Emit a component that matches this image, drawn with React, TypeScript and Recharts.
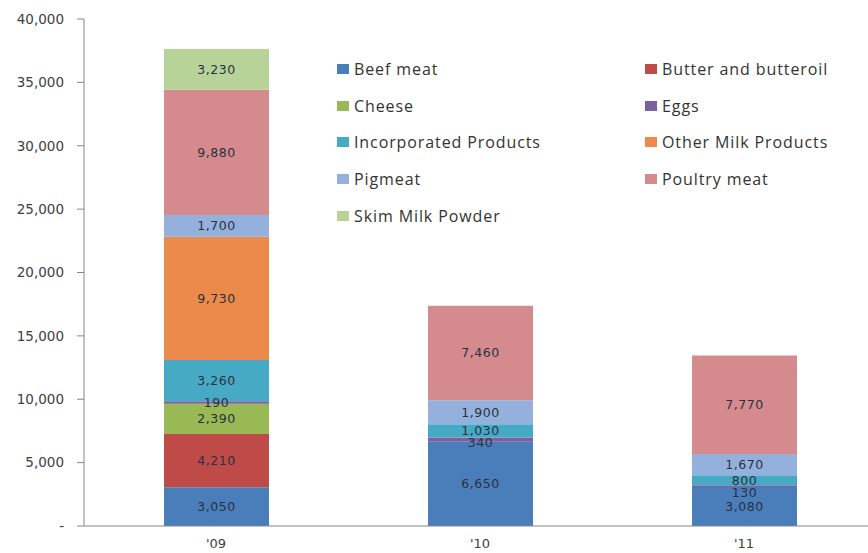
import { Bar, BarChart, LabelList, Legend, XAxis, YAxis } from "recharts";

const years = ["'09", "'10", "'11"];
const beefMeat = [3050, 6650, 3080];
const butterAndButteroil = [4210, 0, 0];
const cheese = [2390, 0, 0];
const eggs = [190, 340, 130];
const incorporatedProducts = [3260, 1030, 800];
const otherMilkProducts = [9730, 0, 0];
const pigmeat = [1700, 1900, 1670];
const poultryMeat = [9880, 7460, 7770];
const skimMilkPowder = [3230, 0, 0];
const yTicks = [0, 5000, 10000, 15000, 20000, 25000, 30000, 35000, 40000];

const series = [
  { key: "beef", name: "Beef meat", color: "#4a7ebb", values: beefMeat },
  { key: "butter", name: "Butter and butteroil", color: "#be4b48", values: butterAndButteroil },
  { key: "cheese", name: "Cheese", color: "#98b954", values: cheese },
  { key: "eggs", name: "Eggs", color: "#7d60a0", values: eggs },
  { key: "incorporated", name: "Incorporated Products", color: "#46aac5", values: incorporatedProducts },
  { key: "otherMilk", name: "Other Milk Products", color: "#eb8a4a", values: otherMilkProducts },
  { key: "pigmeat", name: "Pigmeat", color: "#93b1dc", values: pigmeat },
  { key: "poultry", name: "Poultry meat", color: "#d58b8e", values: poultryMeat },
  { key: "skim", name: "Skim Milk Powder", color: "#b8d398", values: skimMilkPowder },
];

const data = years.map((year, i) => {
  const row: Record<string, string | number> = { year };
  series.forEach((s) => {
    row[s.key] = s.values[i];
  });
  return row;
});

const formatTick = (v: number) => (v === 0 ? "-" : v.toLocaleString("en-US"));
const formatLabel = (v: unknown) => (Number(v) ? Number(v).toLocaleString("en-US") : "");

const labelStyle = { fontSize: 12.5, fontFamily: "DejaVu Sans", fill: "#2b3040", letterSpacing: 0.5 };

function LegendBox() {
  return (
    <div style={{ position: "relative", width: 868, height: 240, fontFamily: "'Open Sans', sans-serif", fontSize: 16, letterSpacing: 0.9, color: "#333" }}>
      {series.map((s, i) => {
        const col = i % 2;
        const row = Math.floor(i / 2);
        return (
          <div
            key={s.key}
            style={{
              position: "absolute",
              left: col === 0 ? 337 : 645,
              top: 58 + row * 36.7,
              display: "flex",
              alignItems: "center",
              whiteSpace: "nowrap",
            }}
          >
            <span style={{ display: "inline-block", width: 12, height: 10, background: s.color, marginRight: 5 }} />
            {s.name}
          </div>
        );
      })}
    </div>
  );
}

// eggs slices are thin, the original pushes their labels down a bit in the later bars
const EggsLabel = (props: any) => {
  const { x, y, width, height, value, index } = props;
  const text = formatLabel(value);
  if (!text) return null;
  return (
    <text
      x={x + width / 2}
      y={y + height / 2 + index * 3}
      textAnchor="middle"
      dominantBaseline="central"
      style={labelStyle}
    >
      {text}
    </text>
  );
};

export default function App() {
  return (
    <div style={{ position: "absolute", left: 0, top: 0, width: 868, height: 553, background: "#fff", overflow: "hidden" }}>
      <BarChart width={876} height={553} data={data} margin={{ top: 19, right: 0, bottom: 0, left: 0 }}>
        <XAxis
          dataKey="year"
          height={27}
          tickLine={false}
          tickSize={6}
          tickMargin={7}
          axisLine={{ stroke: "#868686" }}
          tick={{ fontSize: 13, fontFamily: "DejaVu Sans", fill: "#404040" }}
        />
        <YAxis
          width={84}
          domain={[0, 40000]}
          ticks={yTicks}
          interval={0}
          tickFormatter={formatTick}
          tickSize={7}
          tickMargin={13}
          axisLine={{ stroke: "#868686" }}
          tickLine={{ stroke: "#868686" }}
          tick={{ fontSize: 13.5, fontFamily: "DejaVu Sans", fill: "#404040" }}
        />
        <Legend
          layout="horizontal"
          verticalAlign="middle"
          wrapperStyle={{ left: 0, top: 0, width: 868 }}
          content={() => <LegendBox />}
        />
        {series.map((s) => (
          <Bar key={s.key} dataKey={s.key} name={s.name} stackId="a" fill={s.color} barSize={105} isAnimationActive={false}>
            {s.key === "eggs" ? (
              <LabelList dataKey={s.key} content={EggsLabel} />
            ) : (
              <LabelList dataKey={s.key} position="center" formatter={formatLabel} style={labelStyle} />
            )}
          </Bar>
        ))}
      </BarChart>
    </div>
  );
}
